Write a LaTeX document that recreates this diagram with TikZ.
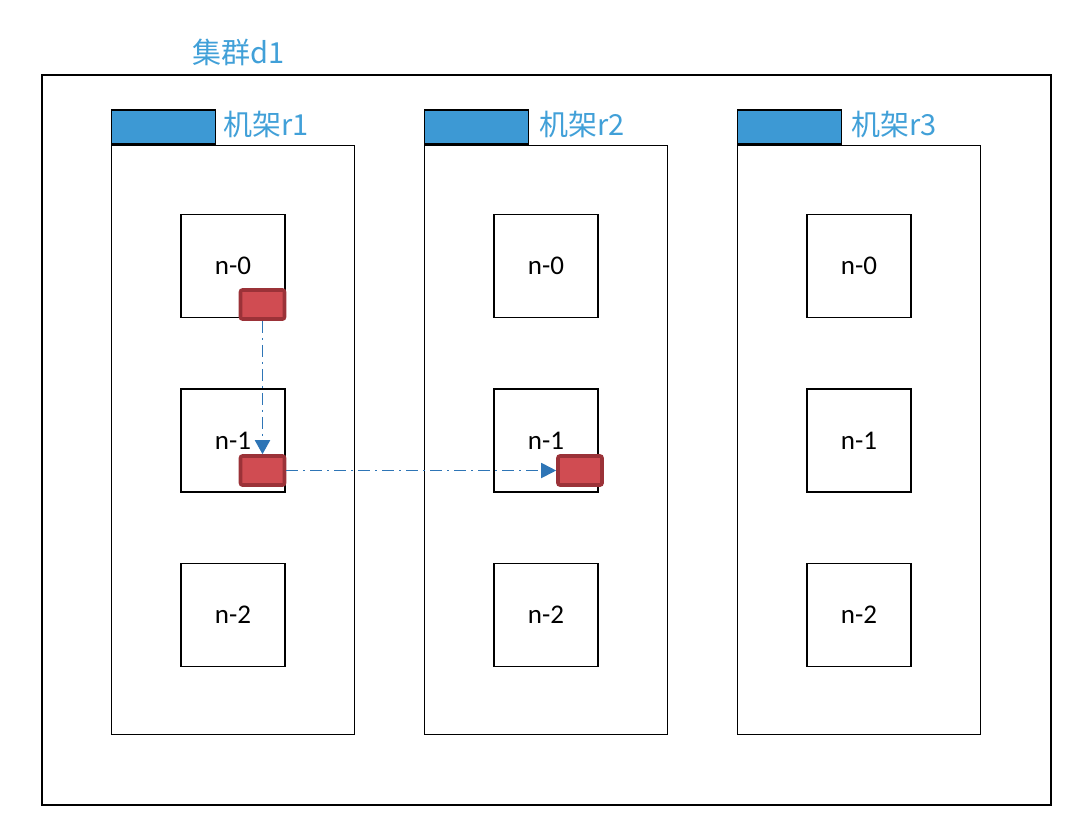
\documentclass[tikz,border=0pt]{standalone}
\usepackage{fontspec}
\setmainfont{Carlito}
\newfontfamily\cjk{Noto Sans CJK SC}
\usetikzlibrary{positioning,arrows.meta}
\definecolor{tabblue}{RGB}{61,153,212}
\definecolor{nameblue}{RGB}{65,160,216}
\definecolor{blockred}{RGB}{208,76,82}
\definecolor{blockedge}{RGB}{155,50,56}
\definecolor{flowblue}{RGB}{46,117,182}

\begin{document}
\begin{tikzpicture}[x=1pt, y=-1pt,
  frame/.style={draw, line width=1.4pt, inner sep=0pt},
  rack/.style={frame, minimum width=243pt, minimum height=589pt},
  tab/.style={frame, fill=tabblue, minimum width=104pt, minimum height=34pt, anchor=south west},
  host/.style={frame, minimum width=104pt, minimum height=103pt, font=\fontsize{27}{32}\selectfont},
  rackname/.style={text=nameblue, inner sep=0pt, font=\cjk\fontsize{29}{34}\selectfont},
  block/.style={draw=blockedge, fill=blockred, line width=3.6pt, rounded corners=2pt,
                minimum width=44pt, minimum height=29pt},
  flow/.style={draw=flowblue, line width=1.9pt, dash pattern=on 12pt off 5pt on 2pt off 5pt},
  ]
  \useasboundingbox (0,0) rectangle (1081,820);

  % cluster
  \node[frame, minimum width=1009pt, minimum height=730pt] (d1) at (546.5,440) {};
  \node[rackname, anchor=west] (title) at (192,52) {集群d1};

  % racks
  \node[rack] (r1) at (233,440) {};
  \node[rack, right=68.6pt of r1] (r2) {};
  \node[rack, right=68.6pt of r2] (r3) {};

  \node[tab] (t1) at (r1.north west) {};
  \node[tab] (t2) at (r2.north west) {};
  \node[tab] (t3) at (r3.north west) {};
  \node[rackname, right=7pt of t1, yshift=3pt] (l1) {机架r1};
  \node[rackname, right=10pt of t2, yshift=3pt] (l2) {机架r2};
  \node[rackname, right=9pt of t3, yshift=3pt] (l3) {机架r3};

  % hosts
  \node[host, below=69pt of r1.north] (r1n0) {n-0};
  \node[host, below=70pt of r1n0] (r1n1) {n-1};
  \node[host, below=70pt of r1n1] (r1n2) {n-2};
  \node[host, below=69pt of r2.north] (r2n0) {n-0};
  \node[host, below=70pt of r2n0] (r2n1) {n-1};
  \node[host, below=70pt of r2n1] (r2n2) {n-2};
  \node[host, below=69pt of r3.north] (r3n0) {n-0};
  \node[host, below=70pt of r3n0] (r3n1) {n-1};
  \node[host, below=70pt of r3n1] (r3n2) {n-2};

  % blocks
  \node[block] (b0) at (262.5,304.5) {};
  \node[block] (b1) at (262.5,470.5) {};
  \node[block] (b2) at (580,470.5) {};

  \draw[flow, -{Triangle[length=14pt,width=15pt]}] (b0) -- (b1);
  \draw[flow, -{Triangle[length=15pt,width=15pt]}] (b1) -- (b2);
\end{tikzpicture}
\end{document}
